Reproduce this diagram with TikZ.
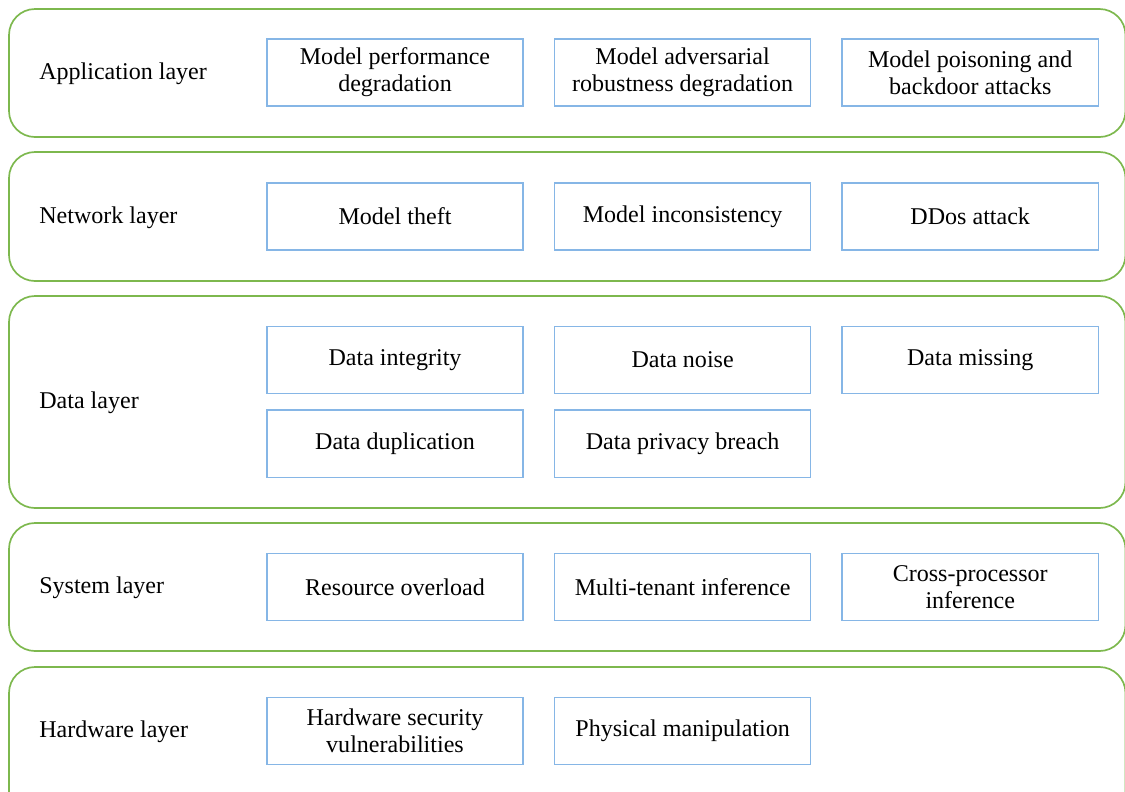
\documentclass[tikz,border=0pt]{standalone}
\usepackage{fontspec}
\setmainfont{Liberation Serif}
\usepackage{xcolor}
\usetikzlibrary{positioning}
\definecolor{layergreen}{HTML}{7DB84E}
\definecolor{boxblue}{HTML}{86B6E6}

\begin{document}
\begin{tikzpicture}[
        x=0.025cm, y=-0.025cm,
        layer/.style={
            draw=layergreen,
            line width=1.2pt,
            rounded corners=0.65cm
        },
        layername/.style={
            anchor=west,
            inner sep=0pt,
            font=\fontsize{17.1}{19.3}\selectfont
        },
        risk/.style={
            rectangle,
            draw=boxblue,
            line width=1.1pt,
            align=center,
            inner sep=2pt,
            font=\fontsize{17.1}{19.3}\selectfont,
            minimum width=6.4cm,
            minimum height=1.68cm
        }
    ]
        \clip (0,0) rectangle (1125,791);

        % Layers
        \draw[layer] (9,9) rectangle (1125.5,137);
        \draw[layer] (9,152) rectangle (1125.5,281);
        \draw[layer] (9,296) rectangle (1125.5,508);
        \draw[layer] (9,523) rectangle (1125.5,651);
        \draw[layer] (9,667) rectangle (1125.5,820);

        \node[layername] (appl) at (39,74) {Application layer};
        \node[layername] (netl) at (39,218) {Network layer};
        \node[layername] (datal) at (39,403) {Data layer};
        \node[layername] (sysl) at (39,588) {System layer};
        \node[layername] (hwl) at (39,732) {Hardware layer};

        % Application layer
        \node[risk] (perf) at (395,72.5) {Model performance\\degradation};
        \node[risk, right=0.75cm of perf] (robust) {Model adversarial\\robustness degradation};
        \node[risk, right=0.75cm of robust] (poison) {Model poisoning and\\backdoor attacks};

        % Network layer
        \node[risk] (theft) at (395,216.5) {Model theft};
        \node[risk, right=0.75cm of theft] (incons) {Model inconsistency};
        \node[risk, right=0.75cm of incons] (ddos) {DDos attack};

        % Data layer
        \node[risk] (integ) at (395,360) {Data integrity};
        \node[risk, right=0.75cm of integ] (noise) {Data noise};
        \node[risk, right=0.75cm of noise] (missing) {Data missing};
        \node[risk, below=0.375cm of integ] (dupl) {Data duplication};
        \node[risk, right=0.75cm of dupl] (privacy) {Data privacy breach};

        % System layer
        \node[risk] (overload) at (395,587) {Resource overload};
        \node[risk, right=0.75cm of overload] (tenant) {Multi-tenant inference};
        \node[risk, right=0.75cm of tenant] (crossproc) {Cross-processor\\inference};

        % Hardware layer
        \node[risk] (hwvuln) at (395,731) {Hardware security\\vulnerabilities};
        \node[risk, right=0.75cm of hwvuln] (physman) {Physical manipulation};
    \end{tikzpicture}
\end{document}
